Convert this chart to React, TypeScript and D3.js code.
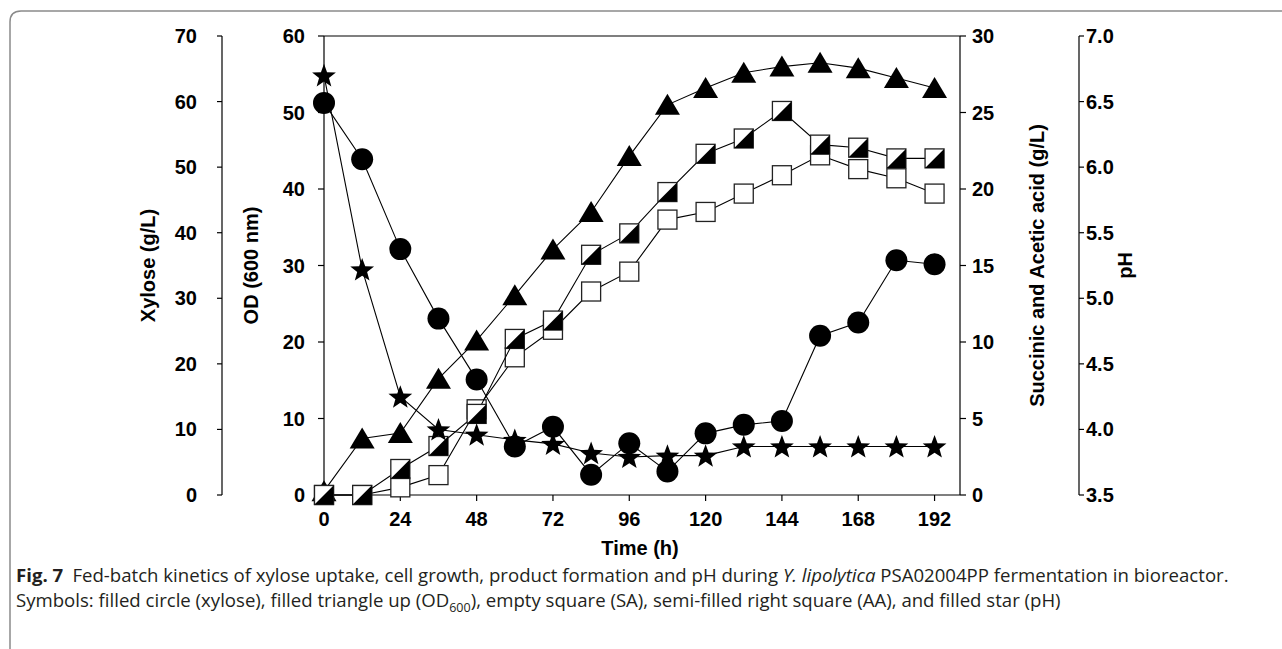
import React from "react";
import * as d3 from "d3";

const time = [0, 12, 24, 36, 48, 60, 72, 84, 96, 108, 120, 132, 144, 156, 168, 180, 192];
const xylose = [59.8, 51.2, 37.5, 26.9, 17.6, 7.4, 10.4, 3.1, 7.9, 3.6, 9.4, 10.7, 11.3, 24.3, 26.3, 35.8, 35.2];
const od600 = [0.5, 7.4, 8.1, 15.2, 20.2, 26.1, 32.1, 37.0, 44.3, 51.0, 53.2, 55.2, 56.0, 56.5, 55.8, 54.5, 53.2];
const succinic = [0, 0, 0.5, 1.3, 5.6, 9.0, 10.8, 13.3, 14.6, 18.0, 18.5, 19.7, 20.9, 22.2, 21.3, 20.7, 19.7];
const acetic = [0, 0, 1.7, 3.2, 5.3, 10.2, 11.4, 15.7, 17.1, 19.8, 22.3, 23.3, 25.1, 22.9, 22.7, 22.0, 22.0];
const ph = [6.7, 5.22, 4.25, 4.0, 3.96, 3.92, 3.89, 3.82, 3.79, 3.8, 3.8, 3.87, 3.87, 3.87, 3.87, 3.87, 3.87];

const xTicks = [0, 24, 48, 72, 96, 120, 144, 168, 192];
const xylTicks = [0, 10, 20, 30, 40, 50, 60, 70];
const odTicks = [0, 10, 20, 30, 40, 50, 60];
const acidTicks = [0, 5, 10, 15, 20, 25, 30];
const phTicks = [3.5, 4.0, 4.5, 5.0, 5.5, 6.0, 6.5, 7.0];

const W = 1282;
const H = 649;
const L = 324, R = 960, T = 36, B = 495;
const XYL_X = 222;
const PH_X = 1079;

const x = d3.scaleLinear().domain([0, 200]).range([L, R]);
const yXyl = d3.scaleLinear().domain([0, 70]).range([B, T]);
const yOD = d3.scaleLinear().domain([0, 60]).range([B, T]);
const yAcid = d3.scaleLinear().domain([0, 30]).range([B, T]);
const yPH = d3.scaleLinear().domain([3.5, 7]).range([B, T]);

const AX = "'Liberation Sans', Arial, sans-serif";
const CAP = "'Open Sans', 'Noto Sans', sans-serif";
const CAP_SIZE = 18.6;

function starPath(R0: number, r0: number) {
  const pts: string[] = [];
  for (let i = 0; i < 10; i++) {
    const a = -Math.PI / 2 + (i * Math.PI) / 5;
    const rr = i % 2 === 0 ? R0 : r0;
    pts.push(`${(rr * Math.cos(a)).toFixed(2)},${(rr * Math.sin(a)).toFixed(2)}`);
  }
  return "M" + pts.join("L") + "Z";
}
const STAR = starPath(12.5, 5.2);
const TRI = "M0,-11L12.5,10L-12.5,10Z";
const SQ = 9.5;

function lineFor(vals: number[], ys: d3.ScaleLinear<number, number>) {
  return d3
    .line<number>()
    .x((_, i) => x(time[i]))
    .y((v) => ys(v))(vals) as string;
}

export default function App() {
  const fontAx = { fontFamily: AX, fontWeight: 700, fontSize: 20 } as const;

  return (
    <svg
      width={W}
      height={H}
      viewBox={`0 0 ${W} ${H}`}
      style={{ position: "absolute", left: 0, top: 0, background: "#fff" }}
    >
      <rect x={0} y={0} width={W} height={H} fill="#fff" />
      {/* outer frame */}
      <path d="M10,660 L10,22 Q10,11 21,11 L1290,11" fill="none" stroke="#8a8a8a" strokeWidth={1.5} />

      {/* plot frame */}
      <g stroke="#000" strokeWidth={1.2} fill="none">
        <line x1={L} y1={T} x2={R} y2={T} />
        <line x1={L} y1={T} x2={L} y2={B} />
        <line x1={R} y1={T} x2={R} y2={B} />
        <line x1={L} y1={B} x2={R} y2={B} />
        <line x1={XYL_X} y1={T} x2={XYL_X} y2={B} />
        <line x1={PH_X} y1={T} x2={PH_X} y2={B} />
      </g>

      {/* x axis */}
      <g style={fontAx}>
        {xTicks.map((t) => (
          <g key={"xt" + t}>
            <line x1={x(t)} x2={x(t)} y1={B} y2={B + 6} stroke="#000" strokeWidth={1.2} />
            <text x={x(t)} y={B + 24} textAnchor="middle" dy="0.35em">{t}</text>
          </g>
        ))}
        <text x={640} y={548} textAnchor="middle" dy="0.35em">Time (h)</text>
      </g>

      {/* xylose axis */}
      <g style={fontAx}>
        {xylTicks.map((t) => (
          <g key={"xy" + t}>
            <line x1={XYL_X - 5} x2={XYL_X} y1={yXyl(t)} y2={yXyl(t)} stroke="#000" strokeWidth={1.2} />
            <text x={197} y={yXyl(t)} textAnchor="end" dy="0.35em">{t}</text>
          </g>
        ))}
        <text transform={`translate(148,${(T + B) / 2}) rotate(-90)`} textAnchor="middle" dy="0.35em">Xylose (g/L)</text>
      </g>

      {/* OD axis */}
      <g style={fontAx}>
        {odTicks.map((t) => (
          <g key={"od" + t}>
            <line x1={L - 6} x2={L} y1={yOD(t)} y2={yOD(t)} stroke="#000" strokeWidth={1.2} />
            <text x={305} y={yOD(t)} textAnchor="end" dy="0.35em">{t}</text>
          </g>
        ))}
        <text transform={`translate(251,${(T + B) / 2}) rotate(-90)`} textAnchor="middle" dy="0.35em">OD (600 nm)</text>
      </g>

      {/* acid axis */}
      <g style={fontAx}>
        {acidTicks.map((t) => (
          <g key={"ac" + t}>
            <line x1={R} x2={R + 6} y1={yAcid(t)} y2={yAcid(t)} stroke="#000" strokeWidth={1.2} />
            <text x={972} y={yAcid(t)} textAnchor="start" dy="0.35em">{t}</text>
          </g>
        ))}
        <text transform={`translate(1037,${(T + B) / 2}) rotate(-90)`} textAnchor="middle" dy="0.35em">Succinic and Acetic acid (g/L)</text>
      </g>

      {/* pH axis */}
      <g style={fontAx}>
        {phTicks.map((t) => (
          <g key={"ph" + t}>
            <line x1={PH_X} x2={PH_X + 5} y1={yPH(t)} y2={yPH(t)} stroke="#000" strokeWidth={1.2} />
            <text x={1086} y={yPH(t)} textAnchor="start" dy="0.35em">{t.toFixed(1)}</text>
          </g>
        ))}
        <text transform={`translate(1125,${(T + B) / 2}) rotate(-90)`} textAnchor="middle" dy="0.35em">pH</text>
      </g>

      {/* OD triangles */}
      <path d={lineFor(od600, yOD)} fill="none" stroke="#000" strokeWidth={1.1} />
      {od600.map((v, i) => (
        <path key={"tr" + i} d={TRI} transform={`translate(${x(time[i])},${yOD(v)})`} fill="#000" />
      ))}

      {/* succinic: empty squares */}
      <path d={lineFor(succinic, yAcid)} fill="none" stroke="#000" strokeWidth={1.1} />
      {succinic.map((v, i) => (
        <rect key={"sa" + i} x={x(time[i]) - SQ} y={yAcid(v) - SQ} width={2 * SQ} height={2 * SQ} fill="#fff" stroke="#222" strokeWidth={1.3} />
      ))}

      {/* acetic: semi-filled squares */}
      <path d={lineFor(acetic, yAcid)} fill="none" stroke="#000" strokeWidth={1.1} />
      {acetic.map((v, i) => {
        const cx = x(time[i]);
        const cy = yAcid(v);
        return (
          <g key={"aa" + i}>
            <rect x={cx - SQ} y={cy - SQ} width={2 * SQ} height={2 * SQ} fill="#fff" stroke="#222" strokeWidth={1.3} />
            <path d={`M${cx - SQ},${cy + SQ}L${cx + SQ},${cy - SQ}L${cx + SQ},${cy + SQ}Z`} fill="#000" />
          </g>
        );
      })}

      {/* xylose circles */}
      <path d={lineFor(xylose, yXyl)} fill="none" stroke="#000" strokeWidth={1.1} />
      {xylose.map((v, i) => (
        <circle key={"xc" + i} cx={x(time[i])} cy={yXyl(v)} r={11} fill="#000" />
      ))}

      {/* pH stars */}
      <path d={lineFor(ph, yPH)} fill="none" stroke="#000" strokeWidth={1.1} />
      {ph.map((v, i) => (
        <path key={"st" + i} d={STAR} transform={`translate(${x(time[i])},${yPH(v) + 1})`} fill="#000" />
      ))}

      {/* caption */}
      <text x={16} y={582} style={{ fontFamily: CAP, fontSize: CAP_SIZE }} fill="#231f20">
        <tspan fontWeight={700}>Fig. 7</tspan>
        <tspan>{"\u2002Fed-batch kinetics of xylose uptake, cell growth, product formation and pH during "}</tspan>
        <tspan fontStyle="italic">Y. lipolytica</tspan>
        <tspan>{" PSA02004PP fermentation in bioreactor."}</tspan>
      </text>
      <text x={16} y={607} style={{ fontFamily: CAP, fontSize: CAP_SIZE }} fill="#231f20">
        <tspan>{"Symbols: filled circle (xylose), filled triangle up (OD"}</tspan>
        <tspan fontSize={12.5} dy={5}>600</tspan>
        <tspan dy={-5}>{"), empty square (SA), semi-filled right square (AA), and filled star (pH)"}</tspan>
      </text>
    </svg>
  );
}
